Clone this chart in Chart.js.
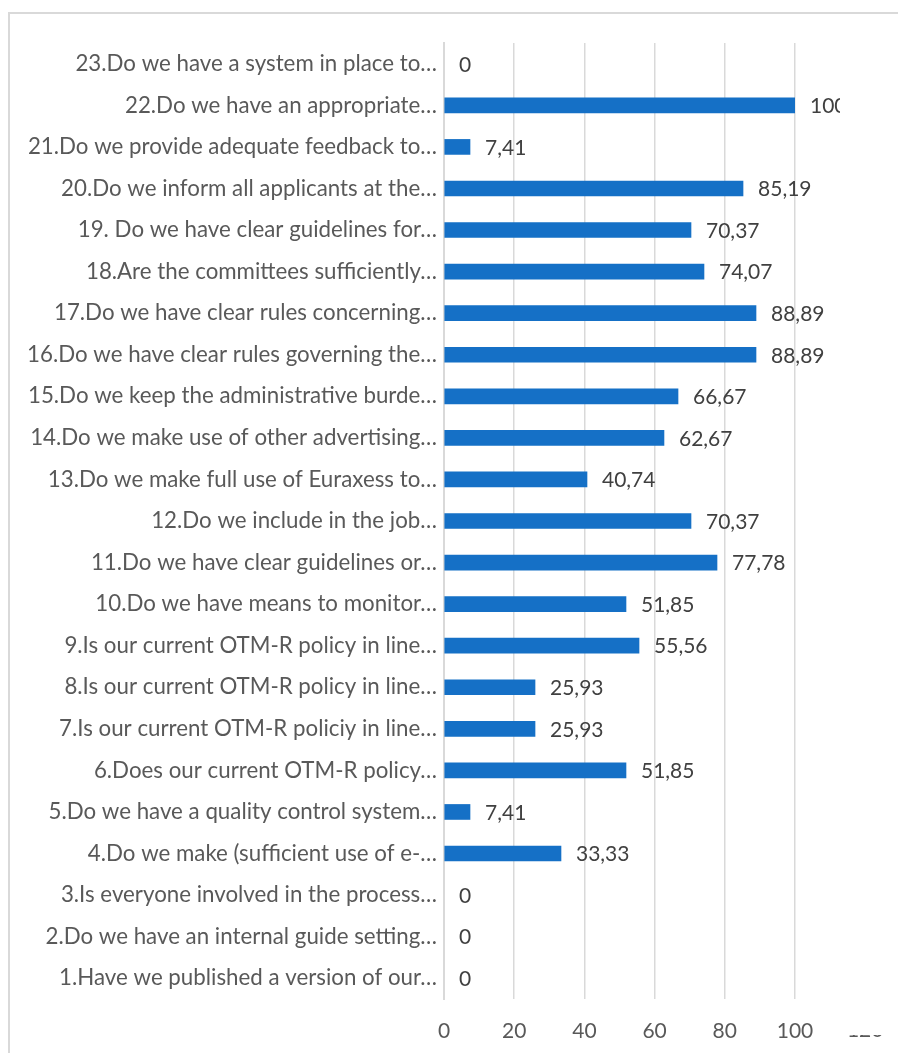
<!DOCTYPE html>
<html>
<head>
<meta charset="utf-8">
<script src="https://cdn.jsdelivr.net/npm/chart.js@4.4.0/dist/chart.umd.min.js"></script>
<style>
  html, body { margin: 0; padding: 0; background: #fff; overflow: hidden; }
  .frame {
    position: absolute; left: 8px; top: 12px; width: 1000px; height: 1200px;
    border: 2px solid #d9d9d9; box-sizing: border-box;
  }
  .wrap { position: absolute; left: 0; top: 0; width: 898px; height: 1053px; }
</style>
</head>
<body>
<div class="frame"></div>
<div class="wrap"><canvas id="chart" width="898" height="1053"></canvas></div>
<script>
const categories = [
  '23.Do we have a system in place to…',
  '22.Do we have an appropriate…',
  '21.Do we provide adequate feedback to…',
  '20.Do we inform all applicants at the…',
  '19. Do we have clear guidelines for…',
  '18.Are the committees sufficiently…',
  '17.Do we have clear rules concerning…',
  '16.Do we have clear rules governing the…',
  '15.Do we keep the administrative burde…',
  '14.Do we make use of other advertising…',
  '13.Do we make full use of Euraxess to…',
  '12.Do we include in the job…',
  '11.Do we have clear guidelines or…',
  '10.Do we have means to monitor…',
  '9.Is our current OTM-R policy in line…',
  '8.Is our current OTM-R policy in line…',
  '7.Is our current OTM-R policiy in line…',
  '6.Does our current OTM-R policy…',
  '5.Do we have a quality control system…',
  '4.Do we make (sufficient use of e-…',
  '3.Is everyone involved in the process…',
  '2.Do we have an internal guide setting…',
  '1.Have we published a version of our…'
];
const values = [0, 100, 7.41, 85.19, 70.37, 74.07, 88.89, 88.89, 66.67, 62.67, 40.74, 70.37,
  77.78, 51.85, 55.56, 25.93, 25.93, 51.85, 7.41, 33.33, 0, 0, 0];
const xTicks = [0, 20, 40, 60, 80, 100];

const FONT = 'Lato, "Open Sans", sans-serif';

// value labels next to bars, clipped like the original picture
const valueLabels = {
  id: 'valueLabels',
  afterDatasetsDraw(c) {
    const ctx = c.ctx;
    const meta = c.getDatasetMeta(0);
    const xs = c.scales.x;
    ctx.save();
    ctx.beginPath();
    ctx.rect(0, 0, 840, c.height);
    ctx.clip();
    ctx.font = '21px ' + FONT;
    ctx.fillStyle = '#404040';
    ctx.textBaseline = 'middle';
    ctx.textAlign = 'left';
    meta.data.forEach((bar, i) => {
      const txt = values[i].toLocaleString('de-DE');
      ctx.fillText(txt, xs.getPixelForValue(values[i]) + 15, bar.y + 1);
    });
    ctx.restore();
    // cut-off "120" tick at the bottom right
    ctx.save();
    ctx.beginPath();
    ctx.rect(0, 1035, c.width, 20);
    ctx.clip();
    ctx.font = '21px ' + FONT;
    ctx.fillStyle = '#595959';
    ctx.textAlign = 'center';
    ctx.textBaseline = 'middle';
    ctx.fillText('120', xs.getPixelForValue(120), 1030);
    ctx.restore();
  }
};

new Chart(document.getElementById('chart'), {
  type: 'bar',
  data: {
    labels: categories,
    datasets: [{
      data: values,
      backgroundColor: (c) => c.raw === 0 ? 'rgba(0,0,0,0)' : '#1570c6',
      barThickness: 15
    }]
  },
  options: {
    indexAxis: 'y',
    responsive: false,
    animation: false,
    layout: { padding: { top: 43, right: 103, bottom: 0, left: 0 } },
    plugins: { legend: { display: false }, tooltip: { enabled: false } },
    scales: {
      x: {
        min: 0, max: 100,
        afterBuildTicks(s) { s.ticks = xTicks.map(v => ({ value: v })); },
        afterFit(s) { s.height = 54; },
        grid: { color: '#d9d9d9', lineWidth: 1.5, drawTicks: false },
        border: { display: false },
        ticks: { color: '#595959', font: { family: FONT, size: 21 }, padding: 20 }
      },
      y: {
        afterFit(s) { s.width = 444; },
        grid: { display: false, drawTicks: false },
        border: { display: true, color: '#d9d9d9', width: 2 },
        ticks: { color: '#595959', font: { family: FONT, size: 22.3 }, padding: 7, autoSkip: false }
      }
    }
  },
  plugins: [valueLabels]
});
</script>
</body>
</html>
